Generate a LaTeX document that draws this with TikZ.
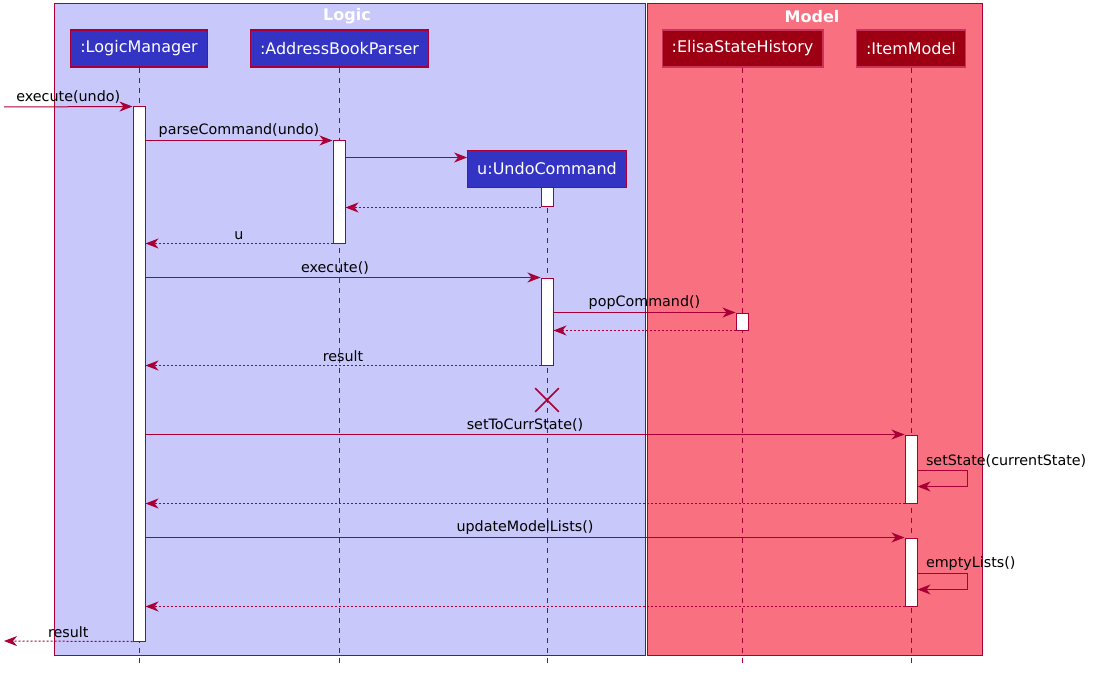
\documentclass[tikz,border=0pt]{standalone}
\usepackage{fontspec}
\setmainfont{DejaVu Sans}
\usetikzlibrary{arrows.meta, shapes.misc}

\definecolor{umlRed}{HTML}{A80036}
\definecolor{logicBlue}{HTML}{3333C4}
\definecolor{logicTint}{HTML}{C8C8FA}
\definecolor{modelRed}{HTML}{9D0012}
\definecolor{modelTint}{HTML}{F97181}
\newcommand{\msgfont}{\fontsize{14.3}{17}\selectfont}
\newcommand{\boxfont}{\fontsize{16}{19}\selectfont}

\begin{document}
\begin{tikzpicture}[
    x=1pt, y=-1pt,
    groupbox/.style={draw=umlRed, line width=1pt},
    groupTitle/.style={font=\boxfont\bfseries, text=white},
    participant/.style={draw=umlRed, line width=1.2pt, text=white, font=\boxfont,
                        minimum height=37pt, inner xsep=9.5pt},
    lifeline/.style={draw=umlRed, line width=0.8pt, dash pattern=on 5pt off 5pt},
    activation/.style={draw=umlRed, line width=1pt, fill=white, minimum width=12pt, inner sep=0pt},
    call/.style={draw=umlRed, line width=1pt, -{Stealth[length=13pt, width=10pt, inset=4pt]}},
    reply/.style={call, dash pattern=on 2pt off 2pt},
    msglabel/.style={font=\msgfont, inner sep=2pt, above, yshift=1pt}
]
\useasboundingbox (0,0) rectangle (1099,676);

\draw[groupbox, fill=logicTint] (54,4) rectangle (645,655);
\draw[groupbox, fill=modelTint] (647,4) rectangle (982,655);
\node[groupTitle] (logicTitle) at (347,16.5) {Logic};
\node[groupTitle] (modelTitle) at (812,16.5) {Model};

\node[participant, fill=logicBlue] (lm) at (139,48.5) {:LogicManager};
\node[participant, fill=logicBlue] (abp) at (339.5,48.5) {:AddressBookParser};
\node[participant, fill=logicBlue] (uc) at (547,169) {u:UndoCommand};
\node[participant, fill=modelRed, draw=umlRed!55!modelTint] (esh) at (742.5,48.5) {:ElisaStateHistory};
\node[participant, fill=modelRed, draw=umlRed!55!modelTint] (im) at (911,48.5) {:ItemModel};

\coordinate (lifeEnd) at (0,665);
\coordinate (entry) at (4,107);
\coordinate (exit) at (4,641);

\draw[lifeline] (lm.south) -- (lm.south |- lifeEnd);
\draw[lifeline] (abp.south) -- (abp.south |- lifeEnd);
\draw[lifeline] (uc.south) -- (uc.south |- lifeEnd);
\draw[lifeline] (esh.south) -- (esh.south |- lifeEnd);
\draw[lifeline] (im.south) -- (im.south |- lifeEnd);

\node[activation, minimum height=534pt] (lmAct) at (139,374) {};
\node[activation, minimum height=102pt] (abpAct) at (339,192) {};
\node[activation, minimum height=19pt] (ucAct1) at (547,197.5) {};
\node[activation, minimum height=87pt] (ucAct2) at (547,321.5) {};
\node[activation, minimum height=17pt] (eshAct) at (742,321.5) {};
\node[activation, minimum height=68pt] (imAct1) at (911,469) {};
\node[activation, minimum height=68pt] (imAct2) at (911,572) {};
\node[draw=umlRed, cross out, line width=1.6pt, minimum size=22pt, inner sep=0pt] (ucEnd) at (547,400) {};

\draw[call] (entry) -- node[msglabel] {execute(undo)} (lmAct.north west);
\draw[call] (lmAct.east |- abpAct.north) -- node[msglabel] {parseCommand(undo)} (abpAct.north west);
\draw[call] ([yshift=-17pt]abpAct.north east) coordinate (create) -- (create -| uc.west);
\draw[reply] (ucAct1.south west) -- (abpAct.east |- ucAct1.south);
\draw[reply] (abpAct.south west) -- node[msglabel] {u} (lmAct.east |- abpAct.south);

\draw[call] (lmAct.east |- ucAct2.north) -- node[msglabel, xshift=-8pt] {execute()} (ucAct2.north west);
\draw[call] (ucAct2.east |- eshAct.north) -- node[msglabel] {popCommand()} (eshAct.north west);
\draw[reply] (eshAct.south west) -- (ucAct2.east |- eshAct.south);
\draw[reply] (ucAct2.south west) -- node[msglabel] {result} (lmAct.east |- ucAct2.south);

\draw[call] (lmAct.east |- imAct1.north) -- node[msglabel] {setToCurrState()} (imAct1.north west);
\draw[call] ([yshift=-36pt]imAct1.north east)
    node[msglabel, anchor=south west, xshift=6pt] {setState(currentState)}
    -- ++(50,0) -- ++(0,16) -- ([yshift=-52pt]imAct1.north east);
\draw[reply] (imAct1.south west) -- (lmAct.east |- imAct1.south);

\draw[call] (lmAct.east |- imAct2.north) -- node[msglabel] {updateModelLists()} (imAct2.north west);
\draw[call] ([yshift=-36pt]imAct2.north east)
    node[msglabel, anchor=south west, xshift=6pt] {emptyLists()}
    -- ++(50,0) -- ++(0,16) -- ([yshift=-52pt]imAct2.north east);
\draw[reply] (imAct2.south west) -- (lmAct.east |- imAct2.south);

\draw[reply] (lmAct.south west) -- node[msglabel] {result} (exit);

\end{tikzpicture}
\end{document}
